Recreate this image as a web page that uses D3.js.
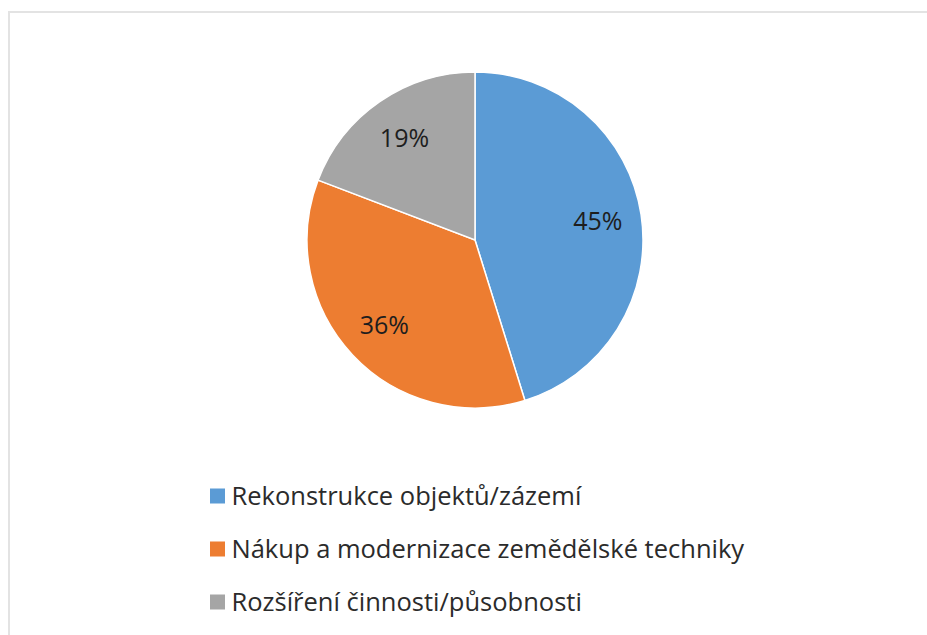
<!DOCTYPE html>
<html>
<head>
<meta charset="utf-8">
<script src="https://cdn.jsdelivr.net/npm/d3@7"></script>
<style>
  body { margin: 0; background: #fff; }
  text { font-family: "Open Sans", "Noto Sans", sans-serif; }
</style>
</head>
<body>
<div id="chart"></div>
<script>
// chart data
var categories = ['Rekonstrukce objektů/zázemí', 'Nákup a modernizace zemědělské techniky', 'Rozšíření činnosti/působnosti'];
var values = [45.2, 35.6, 19.2];
var colors = ['#5b9bd5', '#ed7d31', '#a5a5a5'];

var svgWidth = 927;
var svgHeight = 635;

var svg = d3.select('#chart')
  .append('svg')
  .attr('width', svgWidth)
  .attr('height', svgHeight);

// chart border
svg.append('rect')
  .attr('x', 9)
  .attr('y', 12)
  .attr('width', 930)
  .attr('height', 640)
  .attr('fill', '#fff')
  .attr('stroke', '#e3e3e3')
  .attr('stroke-width', 2);

var radius = 168;
var center = {x: 475, y: 240};
var total = d3.sum(values);

var pie = d3.pie().sort(null).value(d => d);
var arc = d3.arc().innerRadius(0).outerRadius(radius);
var labelArc = d3.arc().innerRadius(radius * 0.74).outerRadius(radius * 0.74);

var pieGroup = svg.append('g')
  .attr('transform', `translate(${center.x}, ${center.y})`);

var slices = pieGroup.selectAll('g.slice')
  .data(pie(values))
  .enter()
  .append('g')
  .attr('class', 'slice');

slices.append('path')
  .attr('d', arc)
  .attr('fill', (d, i) => colors[i])
  .attr('stroke', '#fff')
  .attr('stroke-width', 1.5);

// percent labels
slices.append('text')
  .attr('transform', d => `translate(${labelArc.centroid(d)})`)
  .attr('text-anchor', 'middle')
  .attr('dy', '0.36em')
  .style('font-size', '25px')
  .style('fill', '#1e1e1e')
  .text(d => Math.round(d.value / total * 100) + '%');

// legend
var legend = svg.append('g')
  .attr('transform', 'translate(210, 496)');

var items = legend.selectAll('g.item')
  .data(categories)
  .enter()
  .append('g')
  .attr('class', 'item')
  .attr('transform', (d, i) => `translate(0, ${i * 53})`);

items.append('rect')
  .attr('x', 0)
  .attr('y', -7.5)
  .attr('width', 15)
  .attr('height', 15)
  .attr('fill', (d, i) => colors[i]);

items.append('text')
  .attr('x', 21.5)
  .attr('dy', '0.36em')
  .style('font-size', '25.5px')
  .style('fill', '#2b2b2b')
  .text(d => d);
</script>
</body>
</html>
